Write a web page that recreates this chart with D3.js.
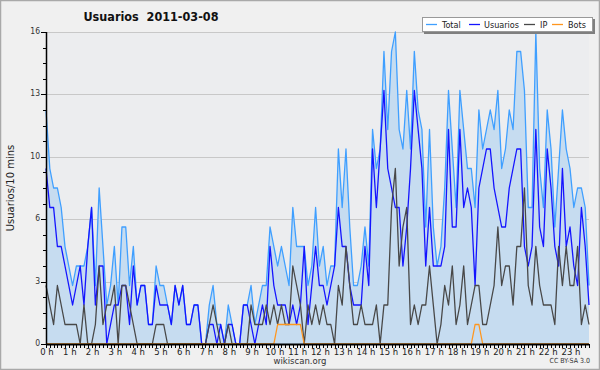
<!DOCTYPE html>
<html>
<head>
<meta charset="utf-8">
<script src="https://cdn.jsdelivr.net/npm/d3@7"></script>
<style>
  body { margin: 0; background: #fff; }
  svg { display: block; font-family: "DejaVu Sans", sans-serif; }
  .cond { font-family: "DejaVu Sans Condensed", "DejaVu Sans", sans-serif; font-stretch: condensed; }
</style>
</head>
<body>
<svg id="chart" width="600" height="370"></svg>
<script>
// data, one value per 10 minutes (144 slots)
const total = [12,9,8,8,7,5,4,3,4,4,4,5,7,3,8,5,2,3,5,2,6,6,3,5,
  2,3,3,1,1,4,3,3,2,1,3,2,3,1,1,2,2,0,0,2,3,1,1,0,
  2,1,0,0,2,2,3,1,2,3,3,6,5,4,5,4,3,7,5,5,5,3,4,7,
  4,5,3,4,4,10,7,10,6,3,3,4,6,4,11,9,10,15,11,15,16,11,10,13,
  10,15,12,11,6,11,6,4,5,8,13,10,7,13,11,9,9,7,12,10,11,12,11,13,
  9,10,12,11,15,15,13,7,7,16,9,7,12,10,6,9,12,10,9,7,8,8,7,3];
const usuarios = [9,7,7,5,5,4,3,2,3,4,2,5,7,2,4,4,0,1,2,2,3,3,1,4,
  2,3,3,1,1,3,2,2,2,1,3,2,3,1,1,2,2,0,0,1,1,0,1,0,
  1,1,0,0,2,2,1,0,1,2,1,5,3,2,2,2,1,2,1,2,5,1,3,5,
  3,3,2,3,4,7,5,5,3,2,2,2,5,3,10,7,10,13,9,8,7,7,4,6,
  9,13,11,9,4,7,4,4,4,5,11,6,6,11,7,8,7,3,8,9,10,10,8,7,
  6,6,8,9,10,10,5,4,5,11,6,5,10,8,5,4,9,5,6,4,3,7,5,2];
const ip = [3,2,1,3,2,1,1,1,1,0,2,0,0,1,4,1,2,2,3,0,3,3,2,1,
  0,0,0,0,0,1,1,1,0,0,0,0,0,0,0,0,0,0,0,1,2,1,0,0,
  1,0,0,0,0,0,2,1,1,1,2,1,2,1,2,1,1,4,3,2,0,2,1,2,
  1,2,1,1,0,3,2,5,3,1,1,2,1,1,1,2,0,2,2,7,9,4,6,7,
  1,2,1,2,2,4,2,0,1,3,2,4,1,2,4,1,2,3,3,1,1,2,3,6,
  3,4,4,2,5,5,8,3,2,5,3,2,2,2,1,5,3,5,3,3,5,1,2,1];
const bots = [0,0,0,0,0,0,0,0,0,0,0,0,0,0,0,0,0,0,0,0,0,0,0,0,
  0,0,0,0,0,0,0,0,0,0,0,0,0,0,0,0,0,0,0,0,0,0,0,0,
  0,0,0,0,0,0,0,0,0,0,0,0,0,1,1,1,1,1,1,1,0,0,0,0,
  0,0,0,0,0,0,0,0,0,0,0,0,0,0,0,0,0,0,0,0,0,0,0,0,
  0,0,0,0,0,0,0,0,0,0,0,0,0,0,0,0,0,1,1,0,0,0,0,0,
  0,0,0,0,0,0,0,0,0,0,0,0,0,0,0,0,0,0,0,0,0,0,0,0];
const hours = d3.range(24);
const yTicks = [0, 3.2, 6.4, 9.6, 12.8, 16];
const yTickLabels = ["0", "3", "6", "10", "13", "16"];

const svg = d3.select("#chart");
const W = 600, H = 370;
const margin = { top: 32, right: 11, bottom: 26, left: 46 };

// frame
svg.append("rect").attr("x", 0.5).attr("y", 0.5).attr("width", W - 1).attr("height", H - 1)
  .attr("fill", "#f0f0f0").attr("stroke", "#a9a9a9").attr("stroke-width", 1.5);

const x = d3.scaleLinear().domain([0, total.length - 1]).range([margin.left, W - margin.right]);
const y = d3.scaleLinear().domain([0, 16]).range([H - margin.bottom, margin.top]);

svg.append("rect")
  .attr("x", margin.left).attr("y", margin.top)
  .attr("width", W - margin.right - margin.left).attr("height", H - margin.bottom - margin.top)
  .attr("fill", "#ecedef");

// grid
svg.append("g").selectAll("line").data(yTicks.slice(1)).enter().append("line")
  .attr("x1", margin.left).attr("x2", W - margin.right)
  .attr("y1", d => Math.round(y(d)) + 0.5).attr("y2", d => Math.round(y(d)) + 0.5)
  .attr("stroke", "#c8c8c8").attr("stroke-width", 1);

// area of total
const area = d3.area().x((d, i) => x(i)).y0(y(0)).y1(d => y(d));
svg.append("path").datum(total).attr("d", area).attr("fill", "#c6dcf0");

const line = d3.line().x((d, i) => x(i)).y(d => y(d));
const series = [
  { name: "Total", values: total, color: "#3f9fff" },
  { name: "Usuarios", values: usuarios, color: "#1414ff" },
  { name: "IP", values: ip, color: "#484848" },
  { name: "Bots", values: bots, color: "#ff961e" }
];
series.forEach(function (s) {
  svg.append("path").datum(s.values).attr("d", line)
    .attr("fill", "none").attr("stroke", s.color).attr("stroke-width", 1.3)
    .attr("stroke-linejoin", "round");
});

// y axis
const yAxis = svg.append("g").attr("transform", `translate(${margin.left},0)`);
yAxis.append("g").selectAll("line").data(d3.range(0, 16.01, 0.8)).enter().append("line")
  .attr("x1", d => (yTicks.some(t => Math.abs(t - d) < 0.01) ? -5 : -3)).attr("x2", 0)
  .attr("y1", d => Math.round(y(d)) + 0.5).attr("y2", d => Math.round(y(d)) + 0.5)
  .attr("stroke", "#000");
yAxis.append("line").attr("x1", 0.5).attr("x2", 0.5).attr("y1", y(16)).attr("y2", y(0))
  .attr("stroke", "#000").attr("stroke-width", 1.5);
yAxis.append("g").selectAll("text").data(yTicks).enter().append("text")
  .attr("class", "cond")
  .attr("x", -6).attr("y", d => y(d) + 2)
  .attr("text-anchor", "end").attr("font-size", 8.5).attr("fill", "#333")
  .text((d, i) => yTickLabels[i]);

// x axis
const xAxis = svg.append("g").attr("transform", `translate(0,${y(0)})`);
xAxis.append("g").selectAll("line").data(d3.range(total.length)).enter().append("line")
  .attr("x1", d => Math.round(x(d)) + 0.5).attr("x2", d => Math.round(x(d)) + 0.5)
  .attr("y1", 0).attr("y2", 4).attr("stroke", "#000");
xAxis.append("line").attr("x1", margin.left).attr("x2", W - margin.right)
  .attr("y1", 0.5).attr("y2", 0.5).attr("stroke", "#000").attr("stroke-width", 2);
xAxis.append("g").selectAll("text").data(hours).enter().append("text")
  .attr("x", d => x(d * 6) + 1).attr("y", 10.5)
  .attr("text-anchor", "middle").attr("font-size", 8.5).attr("fill", "#222")
  .text(d => d + " h");

// y label
svg.append("text")
  .attr("transform", `translate(14,${(y(0) + y(16)) / 2}) rotate(-90)`)
  .attr("text-anchor", "middle").attr("font-size", 10).attr("fill", "#222")
  .text("Usuarios/10 mins");

// title
svg.append("text").attr("class", "cond").attr("x", 151).attr("y", 21)
  .attr("text-anchor", "middle").attr("font-size", 12.5).attr("font-weight", "bold")
  .attr("fill", "#111").attr("xml:space", "preserve")
  .text("Usuarios  2011-03-08");

// credits
svg.append("text").attr("x", 300).attr("y", 364).attr("text-anchor", "middle")
  .attr("font-size", 8.5).attr("fill", "#333").text("wikiscan.org");
svg.append("text").attr("class", "cond").attr("x", 590).attr("y", 363).attr("text-anchor", "end")
  .attr("font-size", 7).attr("fill", "#333").text("CC BY-SA 3.0");

// legend
const legend = svg.append("g");
legend.append("rect").attr("x", 424).attr("y", 19).attr("width", 171).attr("height", 15).attr("fill", "#7f7f7f");
legend.append("rect").attr("x", 422.5).attr("y", 17.5).attr("width", 170).attr("height", 14)
  .attr("fill", "#fff").attr("stroke", "#999");
const legendX = [426, 469, 524, 552];
const legendTextX = [442, 484, 540, 568];
series.forEach(function (s, i) {
  legend.append("line").attr("x1", legendX[i]).attr("x2", legendX[i] + 11)
    .attr("y1", 24.5).attr("y2", 24.5).attr("stroke", s.color).attr("stroke-width", 1.3);
  legend.append("text").attr("class", "cond").attr("x", legendTextX[i]).attr("y", 28)
    .attr("font-size", 9).attr("fill", "#222").text(s.name);
});
</script>
</body>
</html>
